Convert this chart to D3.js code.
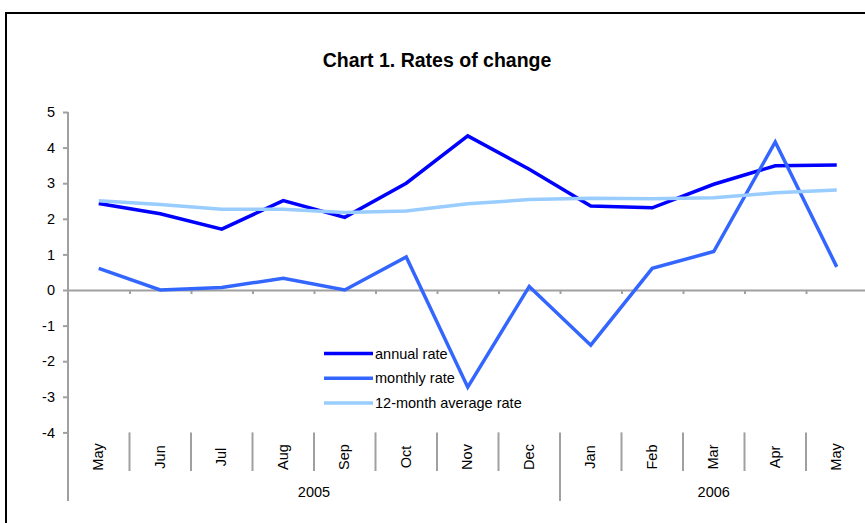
<!DOCTYPE html>
<html>
<head>
<meta charset="utf-8">
<script src="https://cdn.jsdelivr.net/npm/d3@7"></script>
<style>
  body { margin: 0; background: #fff; }
  svg { display: block; font-family: "Liberation Sans", Arial, sans-serif; }
</style>
</head>
<body>
<svg id="chart" width="865" height="523"></svg>
<script>
// chart data
const months = ['May', 'Jun', 'Jul', 'Aug', 'Sep', 'Oct', 'Nov', 'Dec', 'Jan', 'Feb', 'Mar', 'Apr', 'May'];
const years = [{ label: '2005', from: 0, to: 8 }, { label: '2006', from: 8, to: 13 }];
const annualRate = [2.43, 2.14, 1.71, 2.51, 2.04, 3.0, 4.33, 3.39, 2.36, 2.31, 2.97, 3.49, 3.51];
const monthlyRate = [0.61, 0.0, 0.07, 0.33, 0.0, 0.93, -2.73, 0.1, -1.55, 0.61, 1.08, 4.16, 0.65];
const avgRate = [2.51, 2.4, 2.27, 2.27, 2.18, 2.22, 2.42, 2.54, 2.58, 2.56, 2.59, 2.73, 2.81];
const yTicks = [-4, -3, -2, -1, 0, 1, 2, 3, 4, 5];

const series = [
    { name: 'annual rate', values: annualRate, color: '#0000ff' },
    { name: 'monthly rate', values: monthlyRate, color: '#3366ff' },
    { name: '12-month average rate', values: avgRate, color: '#99ccff' }
];

const svg = d3.select('#chart');
const plotLeft = 68, plotRight = 867.5, plotTop = 112, plotBottom = 432.4;
const axisColor = '#a0a0a0';
const fs = 14.5;

// outer frame (runs off the right and bottom)
svg.append('rect')
    .attr('x', 6).attr('y', 13)
    .attr('width', 900).attr('height', 560)
    .attr('fill', 'none')
    .attr('stroke', '#000')
    .attr('stroke-width', 2);

svg.append('text')
    .attr('x', 437).attr('y', 67)
    .attr('text-anchor', 'middle')
    .attr('font-size', 19.5)
    .attr('font-weight', 'bold')
    .text('Chart 1. Rates of change');

const idx = d3.range(months.length);
const x = d3.scaleBand().domain(idx).range([plotLeft, plotRight]);
const xEdge = d3.scaleLinear().domain([0, months.length]).range([plotLeft, plotRight]);
const y = d3.scaleLinear().domain([-4, 5]).range([plotBottom, plotTop]);

// y axis
const yAxis = svg.append('g')
    .attr('transform', `translate(${plotLeft},0)`)
    .call(d3.axisLeft(y).tickValues(yTicks).tickSize(5).tickPadding(8).tickFormat(d3.format('d')));
yAxis.select('.domain').remove();
yAxis.selectAll('line').attr('stroke', axisColor).attr('stroke-width', 2);
yAxis.selectAll('text').attr('font-size', fs).attr('fill', '#000')
    .text(d => d < 0 ? '-' + Math.abs(d) : d);

svg.append('line')
    .attr('x1', plotLeft).attr('x2', plotLeft)
    .attr('y1', plotTop).attr('y2', 501)
    .attr('stroke', axisColor).attr('stroke-width', 2);

// zero line with ticks between categories
const zeroAxis = svg.append('g')
    .attr('transform', `translate(0,${y(0)})`)
    .call(d3.axisBottom(xEdge).tickValues(d3.range(1, months.length)).tickSize(4).tickSizeOuter(0).tickFormat(''));
zeroAxis.select('.domain').attr('stroke', axisColor).attr('stroke-width', 2);
zeroAxis.selectAll('line').attr('stroke', axisColor).attr('stroke-width', 2);

// category separators below the plot
const sepG = svg.append('g');
sepG.selectAll('line.m')
    .data(d3.range(1, months.length).filter(i => !years.some(yr => yr.from === i)))
    .join('line')
    .attr('class', 'm')
    .attr('x1', d => xEdge(d)).attr('x2', d => xEdge(d))
    .attr('y1', plotBottom).attr('y2', 471)
    .attr('stroke', axisColor).attr('stroke-width', 2);
sepG.selectAll('line.y')
    .data(years.filter(yr => yr.from > 0))
    .join('line')
    .attr('class', 'y')
    .attr('x1', d => xEdge(d.from)).attr('x2', d => xEdge(d.from))
    .attr('y1', plotBottom).attr('y2', 501)
    .attr('stroke', axisColor).attr('stroke-width', 2);

// month labels, rotated
svg.append('g').selectAll('text')
    .data(idx)
    .join('text')
    .attr('transform', d => `translate(${x(d) + x.bandwidth() / 2 + 4.5},457) rotate(-90)`)
    .attr('text-anchor', 'middle')
    .attr('font-size', fs)
    .text(d => months[d]);

// year labels
svg.append('g').selectAll('text')
    .data(years)
    .join('text')
    .attr('x', d => (xEdge(d.from) + xEdge(d.to)) / 2)
    .attr('y', 497)
    .attr('text-anchor', 'middle')
    .attr('font-size', fs)
    .text(d => d.label);

// lines
const line = d3.line()
    .x((d, i) => x(i) + x.bandwidth() / 2)
    .y(d => y(d));

svg.append('g').selectAll('path')
    .data(series)
    .join('path')
    .attr('d', d => line(d.values))
    .attr('fill', 'none')
    .attr('stroke', d => d.color)
    .attr('stroke-width', 3.5);

// legend
const legend = svg.append('g').selectAll('g')
    .data(series)
    .join('g')
    .attr('transform', (d, i) => `translate(324,${353.5 + i * 24.7})`);
legend.append('line')
    .attr('x1', 0).attr('x2', 49)
    .attr('stroke', d => d.color)
    .attr('stroke-width', 3.5);
legend.append('text')
    .attr('x', 51)
    .attr('dy', '0.35em')
    .attr('font-size', fs)
    .text(d => d.name);
</script>
</body>
</html>
